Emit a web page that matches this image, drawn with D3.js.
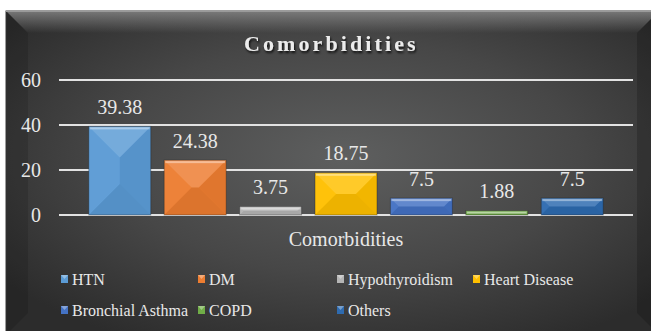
<!DOCTYPE html>
<html>
<head>
<meta charset="utf-8">
<script src="https://cdn.jsdelivr.net/npm/d3@7"></script>
<style>
  body { margin: 0; background: #fff; }
</style>
</head>
<body>
<div id="chart"></div>
<script>
var series = ["HTN", "DM", "Hypothyroidism", "Heart Disease", "Bronchial Asthma", "COPD", "Others"];
var values = [39.38, 24.38, 3.75, 18.75, 7.5, 1.88, 7.5];
var colors = ["#5b9bd5", "#ed7d31", "#b5b5b5", "#ffc000", "#4472c4", "#70ad47", "#2e6bb0"];
var yTicks = [0, 20, 40, 60];
var category = "Comorbidities";
var FONT = "'Liberation Serif'";

function init(){
    var w = 651, h = 331;
    var svg = d3.select("#chart").append("svg")
                .attr("width", w).attr("height", h);

    var defs = svg.append("defs");
    var bg = defs.append("radialGradient").attr("id", "bg")
                .attr("cx", "52%").attr("cy", "45%").attr("r", "65%");
    bg.append("stop").attr("offset", "0%").attr("stop-color", "#5e5f5f");
    bg.append("stop").attr("offset", "55%").attr("stop-color", "#474747");
    bg.append("stop").attr("offset", "100%").attr("stop-color", "#2c2c2c");

    var topG = defs.append("linearGradient").attr("id", "topbev")
                .attr("x1", 0).attr("y1", 0).attr("x2", 0).attr("y2", 1);
    topG.append("stop").attr("offset", "0%").attr("stop-color", "#8a8a8a").attr("stop-opacity", 0.8);
    topG.append("stop").attr("offset", "100%").attr("stop-color", "#8a8a8a").attr("stop-opacity", 0);

    var shadow = defs.append("filter").attr("id", "tshadow")
                .attr("x", "-10%").attr("y", "-30%").attr("width", "120%").attr("height", "160%");
    shadow.append("feDropShadow").attr("dx", 1).attr("dy", 2).attr("stdDeviation", 1.2)
                .attr("flood-color", "#000").attr("flood-opacity", 0.8);

    // frame, runs off the right and bottom edge like the original
    var fx = 6, fy = 11, fw = w - fx + 8, fh = h - fy + 4;
    svg.append("rect").attr("x", fx).attr("y", fy).attr("width", fw).attr("height", fh)
        .attr("fill", "url(#bg)").attr("stroke", "#3a3a3a");
    var b = 22;
    svg.append("path")
        .attr("d", "M" + fx + "," + fy + "L" + (fx + fw) + "," + fy + "L" + (fx + fw - b) + "," + (fy + b) + "L" + (fx + b) + "," + (fy + b) + "Z")
        .attr("fill", "url(#topbev)");
    svg.append("path")
        .attr("d", "M" + fx + "," + fy + "L" + (fx + b) + "," + (fy + b) + "L" + (fx + b) + "," + (fy + fh - b) + "L" + fx + "," + (fy + fh) + "Z")
        .attr("fill", "#000").attr("opacity", 0.12);
    svg.append("path")
        .attr("d", "M" + (fx + fw) + "," + fy + "L" + (fx + fw - b) + "," + (fy + b) + "L" + (fx + fw - b) + "," + (fy + fh - b) + "L" + (fx + fw) + "," + (fy + fh) + "Z")
        .attr("fill", "#000").attr("opacity", 0.18);
    svg.append("line").attr("x1", fx).attr("x2", fx + fw).attr("y1", fy + 0.5).attr("y2", fy + 0.5)
        .attr("stroke", "#9a9a9a").attr("stroke-width", 1);

    // title
    svg.append("text").attr("x", 244).attr("y", 51)
        .style("font-family", FONT)
        .attr("font-size", 22).attr("font-weight", "bold").attr("letter-spacing", 3.1)
        .attr("fill", "#ececec").attr("filter", "url(#tshadow)").text(category);

    var x0 = 59, x1 = 633;
    var x = d3.scaleBand().domain(series).range([x0, x1]).paddingInner(0.178).paddingOuter(0.395);
    var y = d3.scaleLinear().domain([0, 60]).range([215, 80]);

    // grid
    svg.selectAll(".grid").data(yTicks).enter().append("line")
        .attr("x1", x0).attr("x2", x1)
        .attr("y1", function(d){ return y(d); }).attr("y2", function(d){ return y(d); })
        .attr("stroke", "#e2e2e2").attr("stroke-width", 2);

    var yAxis = svg.append("g").attr("transform", "translate(41,0)")
        .call(d3.axisLeft(y).tickValues(yTicks).tickSize(0).tickPadding(0));
    yAxis.select(".domain").remove();
    yAxis.selectAll("text").style("font-family", FONT)
        .attr("font-size", 20).attr("fill", "#e8e8e8");

    // bars
    var bars = svg.selectAll(".bar").data(series).enter().append("g");
    bars.append("rect")
        .attr("x", function(d){ return x(d); })
        .attr("y", function(d, i){ return y(values[i]); })
        .attr("width", x.bandwidth())
        .attr("height", function(d, i){ return y(0) - y(values[i]); })
        .attr("fill", function(d, i){ return colors[i]; })
        .attr("stroke", "#1a1a1a").attr("stroke-opacity", 0.35);
    // pyramid facets
    function facet(d, i, which){
        var l = x(d), r = x(d) + x.bandwidth(), t = y(values[i]), bt = y(0);
        var hh = bt - t, half = x.bandwidth() / 2;
        var inset = Math.min(hh / 2, half);
        var it = t + inset, ib = bt - inset;
        if (which == "top") return "M" + l + "," + t + "L" + r + "," + t + "L" + (r - inset) + "," + it + "L" + (l + inset) + "," + it + "Z";
        if (which == "bottom") return "M" + l + "," + bt + "L" + r + "," + bt + "L" + (r - inset) + "," + ib + "L" + (l + inset) + "," + ib + "Z";
        if (which == "left") return "M" + l + "," + t + "L" + (l + inset) + "," + it + "L" + (l + inset) + "," + ib + "L" + l + "," + bt + "Z";
        return "M" + r + "," + t + "L" + (r - inset) + "," + it + "L" + (r - inset) + "," + ib + "L" + r + "," + bt + "Z";
    }
    var facets = [["top", "#fff", 0.16], ["left", "#fff", 0.04], ["right", "#000", 0.05], ["bottom", "#000", 0.07]];
    facets.forEach(function(f){
        bars.append("path")
            .attr("d", function(d, i){ return facet(d, i, f[0]); })
            .attr("fill", f[1]).attr("opacity", f[2]);
    });
    bars.append("rect")
        .attr("x", function(d){ return x(d) + 1; })
        .attr("y", function(d, i){ return y(values[i]) + 1; })
        .attr("width", x.bandwidth() - 2)
        .attr("height", 2)
        .attr("fill", "#fff").attr("opacity", 0.4);

    // value labels
    svg.selectAll(".lbl").data(series).enter().append("text")
        .attr("x", function(d){ return x(d) + x.bandwidth() / 2; })
        .attr("y", function(d, i){ return y(values[i]) - 12.5; })
        .style("font-family", FONT)
        .attr("text-anchor", "middle").attr("font-size", 20).attr("fill", "#e8e8e8")
        .text(function(d, i){ return values[i]; });

    // axis title
    svg.append("text").attr("x", (x0 + x1) / 2).attr("y", 246).attr("text-anchor", "middle")
        .style("font-family", FONT)
        .attr("font-size", 20).attr("fill", "#e8e8e8").text(category);

    // legend
    var colX = [61, 198, 337, 473];
    var rowY = [279, 310];
    var legend = svg.selectAll(".leg").data(series).enter().append("g")
        .attr("transform", function(d, i){
            var row = i < 4 ? 0 : 1, col = i < 4 ? i : i - 4;
            return "translate(" + colX[col] + "," + rowY[row] + ")";
        });
    legend.append("rect").attr("x", 0).attr("y", -4).attr("width", 7).attr("height", 8)
        .attr("fill", function(d, i){ return colors[i]; });
    legend.append("path").attr("d", "M0,-4L7,-4L3.5,0Z").attr("fill", "#fff").attr("opacity", 0.35);
    legend.append("text").attr("x", 11).attr("y", 5.5)
        .style("font-family", FONT)
        .attr("font-size", 16).attr("fill", "#e8e8e8")
        .text(function(d){ return d; });
}
window.onload = init;
</script>
</body>
</html>
